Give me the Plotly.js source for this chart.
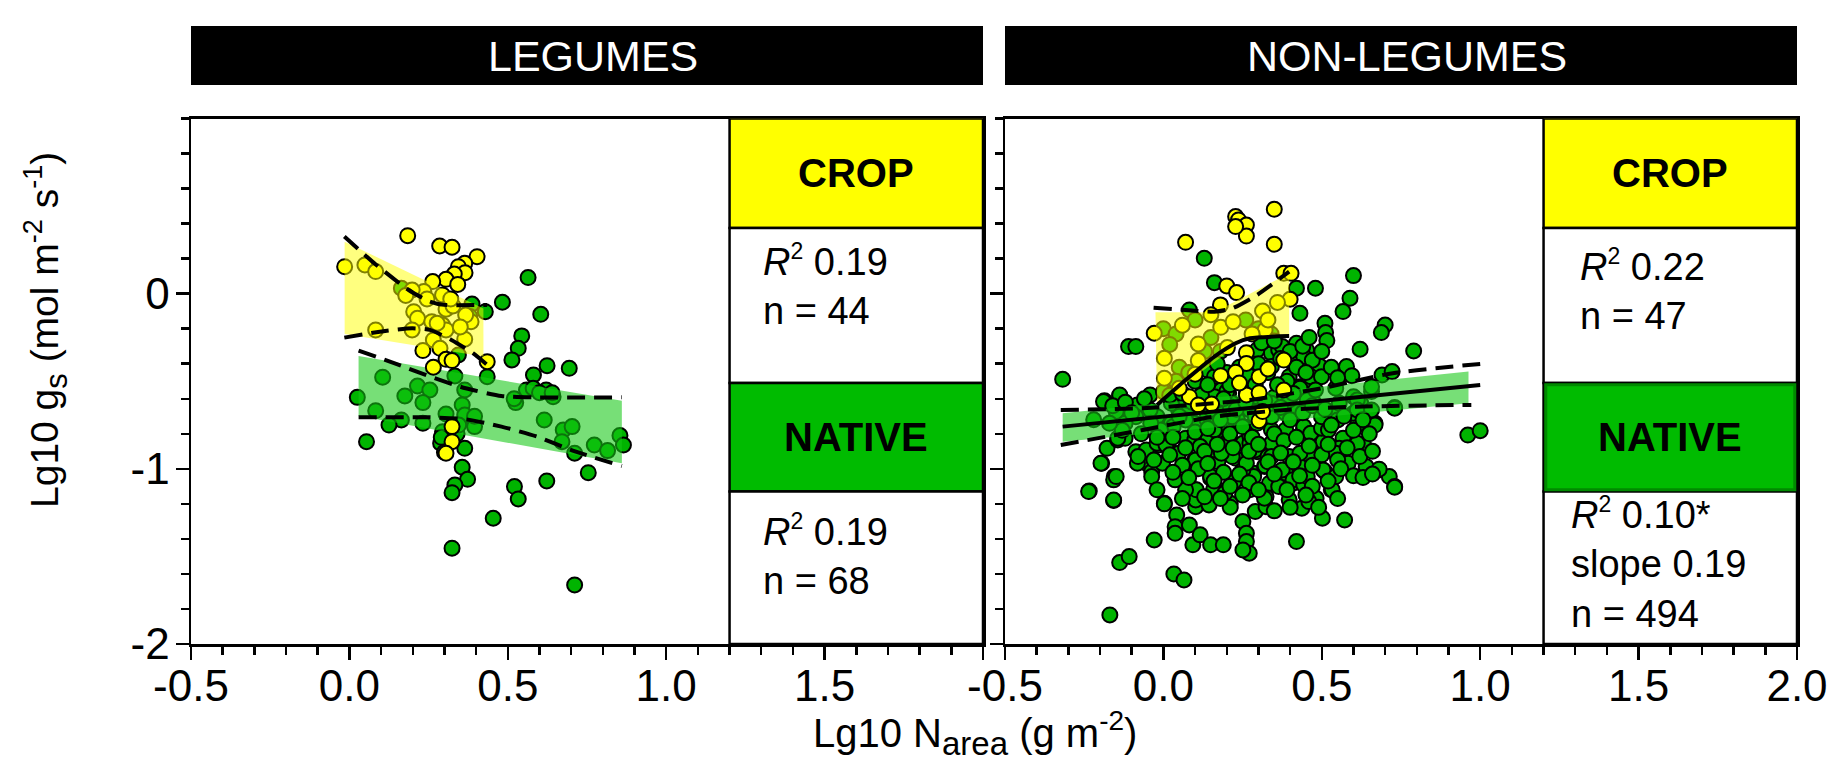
<!DOCTYPE html>
<html>
<head>
<meta charset="utf-8">
<script src="https://cdn.plot.ly/plotly-3.0.1.min.js"></script>
<style>
html,body{margin:0;padding:0;background:#fff;}
#chart{width:1839px;height:765px;}
</style>
</head>
<body>
<div id="chart"></div>
<script>
// ---------------- DATA ----------------
// LEGUMES panel
const legCropPts = [[-0.015,0.154],[0.049,0.164],[0.083,0.126],[0.184,0.331],[0.285,0.272],[0.324,0.265],[0.403,0.211],[0.364,0.173],[0.344,0.154],[0.365,0.120],[0.331,0.112],[0.305,0.082],[0.263,0.069],[0.342,0.053],[0.235,0.012],[0.198,0.021],[0.294,-0.007],[0.305,-0.089],[0.327,-0.070],[0.203,-0.103],[0.215,-0.141],[0.260,-0.160],[0.294,-0.179],[0.305,-0.207],[0.384,-0.160],[0.367,-0.122],[0.277,-0.169],[0.083,-0.207],[0.198,-0.207],[0.265,-0.264],[0.364,-0.260],[0.232,-0.325],[0.286,-0.312],[0.305,-0.375],[0.324,-0.382],[0.265,-0.420],[0.435,-0.388],[0.324,-0.759],[0.324,-0.845],[0.305,-0.911],[0.178,-0.010],[0.320,-0.030],[0.245,-0.030],[0.350,-0.190]];
const legNativePts = [[0.564,0.092],[0.483,-0.049],[0.604,-0.118],[0.429,-0.103],[0.387,-0.059],[0.544,-0.241],[0.533,-0.312],[0.513,-0.378],[0.624,-0.411],[0.694,-0.426],[0.581,-0.464],[0.344,-0.350],[0.333,-0.470],[0.435,-0.474],[0.105,-0.477],[0.215,-0.527],[0.254,-0.550],[0.364,-0.550],[0.025,-0.592],[0.175,-0.584],[0.232,-0.622],[0.356,-0.635],[0.559,-0.550],[0.621,-0.550],[0.643,-0.588],[0.525,-0.622],[0.083,-0.668],[0.164,-0.721],[0.125,-0.750],[0.232,-0.740],[0.305,-0.687],[0.364,-0.693],[0.395,-0.759],[0.294,-0.788],[0.615,-0.721],[0.675,-0.778],[0.703,-0.759],[0.671,-0.845],[0.711,-0.911],[0.773,-0.864],[0.815,-0.896],[0.854,-0.810],[0.865,-0.864],[0.054,-0.845],[0.288,-0.854],[0.364,-0.883],[0.356,-0.991],[0.373,-1.060],[0.333,-1.092],[0.324,-1.136],[0.521,-1.101],[0.533,-1.172],[0.623,-1.069],[0.754,-1.022],[0.454,-1.282],[0.324,-1.453],[0.711,-1.663],[0.164,0.031],[0.290,-0.820],[0.340,-0.800],[0.580,-0.540],[0.600,-0.565],[0.380,-0.130],[0.300,-0.905],[0.640,-0.565],[0.520,-0.600],[0.345,-0.750],[0.395,-0.700]];
// confidence bands (polygons) and interval curves, LEGUMES
const legCropBandX = [-0.015,0.423,0.423,-0.015];
const legCropBandY = [0.297,-0.084,-0.359,-0.230];
const legCropUpX = [-0.016,0.085,0.187,0.254,0.299,0.435];
const legCropUpY = [0.326,0.164,0.021,-0.045,-0.064,-0.064];
const legCropLoX = [-0.016,0.096,0.198,0.254,0.322,0.390,0.435];
const legCropLoY = [-0.251,-0.217,-0.198,-0.207,-0.264,-0.340,-0.407];
const legNatBandX = [0.029,0.860,0.860,0.029];
const legNatBandY = [-0.356,-0.611,-0.968,-0.698];
const legNatUpX = [0.029,0.141,0.254,0.367,0.480,0.592,0.860];
const legNatUpY = [-0.325,-0.397,-0.473,-0.540,-0.584,-0.592,-0.592];
const legNatLoX = [0.029,0.254,0.367,0.480,0.592,0.705,0.860];
const legNatLoY = [-0.706,-0.706,-0.717,-0.759,-0.816,-0.896,-0.984];

// NON-LEGUMES panel
const nonCropPts = [[0.350,0.482],[0.228,0.440],[0.237,0.421],[0.262,0.392],[0.262,0.329],[0.228,0.383],[0.070,0.293],[0.350,0.282],[0.380,0.116],[0.403,0.116],[0.200,0.044],[0.231,0.006],[0.180,-0.064],[0.313,-0.099],[0.400,-0.032],[-0.029,-0.226],[0.181,-0.192],[0.110,-0.287],[0.321,-0.207],[0.003,-0.369],[0.110,-0.382],[0.202,-0.308],[0.262,-0.337],[0.262,-0.398],[0.380,-0.379],[0.228,-0.449],[0.181,-0.468],[0.302,-0.474],[0.380,-0.550],[0.262,-0.578],[0.302,-0.565],[0.082,-0.588],[0.152,-0.630],[0.110,-0.635],[0.302,-0.725],[0.313,-0.673],[0.003,-0.483],[0.360,-0.050],[0.330,-0.150],[0.150,-0.120],[0.060,-0.180],[0.280,-0.230],[0.220,-0.160],[0.100,-0.460],[0.050,-0.540],[0.330,-0.430],[0.240,-0.510]];
const nonNativePts = [[0.129,0.202],[0.161,0.063],[0.420,0.031],[0.480,0.031],[0.600,0.103],[0.589,-0.026],[0.567,-0.102],[0.431,-0.112],[0.510,-0.169],[0.512,-0.222],[0.516,-0.268],[0.700,-0.179],[0.688,-0.222],[0.621,-0.317],[0.790,-0.327],[0.452,-0.321],[0.493,-0.413],[0.578,-0.416],[0.595,-0.468],[0.690,-0.464],[0.722,-0.445],[0.730,-0.650],[0.668,-0.740],[0.961,-0.807],[1.000,-0.782],[-0.110,-0.302],[-0.087,-0.302],[-0.318,-0.489],[-0.186,-0.611],[-0.138,-0.584],[-0.078,-0.639],[-0.042,-0.578],[-0.149,-0.673],[-0.178,-0.883],[-0.195,-0.968],[-0.155,-1.044],[-0.234,-1.126],[-0.157,-1.181],[-0.087,-0.902],[-0.054,-0.968],[-0.037,-1.016],[-0.014,-0.864],[0.014,-0.873],[-0.003,-0.968],[0.003,-1.197],[0.070,-0.825],[0.099,-0.949],[0.149,-1.054],[0.161,-1.111],[0.099,-1.120],[0.110,-1.168],[0.211,-1.197],[0.223,-1.067],[0.228,-0.940],[0.251,-0.854],[0.183,-0.778],[0.228,-0.730],[0.285,-1.025],[0.319,-0.987],[0.296,-0.902],[0.364,-0.854],[0.386,-1.025],[0.409,-1.082],[0.397,-1.177],[0.324,-1.158],[0.442,-0.778],[0.465,-0.930],[0.499,-0.854],[0.510,-1.016],[0.530,-1.120],[0.482,-1.168],[0.550,-0.711],[0.567,-0.825],[0.612,-0.749],[0.628,-0.864],[0.578,-0.968],[0.640,-0.987],[0.681,-1.006],[0.713,-1.044],[0.730,-1.101],[0.296,-0.321],[0.341,-0.340],[0.364,-0.321],[0.420,-0.283],[0.409,-0.397],[0.431,-0.531],[0.459,-0.512],[0.397,-0.474],[0.352,-0.588],[0.183,-0.550],[0.206,-0.569],[0.127,-0.550],[0.138,-0.435],[0.172,-0.664],[0.217,-0.626],[0.476,-0.626],[0.544,-0.540],[0.600,-0.588],[0.623,-0.626],[0.657,-0.559],[0.025,-0.740],[0.048,-0.664],[-0.020,-0.711],[0.273,-0.759],[0.341,-0.778],[0.082,-0.093],
[0.000,-0.200],[0.040,-0.230],[0.100,-0.150],[0.150,-0.250],[0.260,-0.150],[0.300,-0.200],[0.340,-0.230],[0.020,-0.290],[0.050,-0.420],[0.180,-0.330],[0.000,-0.560],[0.130,-0.330],
[-0.236,-1.130],[-0.197,-0.968],[-0.157,-1.063],[-0.149,-1.044],[-0.157,-1.178],[-0.138,-1.535],[-0.108,-1.501],[-0.169,-1.834],[-0.082,-0.968],[-0.037,-1.044],[0.003,-1.200],[-0.029,-1.406],[0.033,-1.600],[0.065,-1.634],[0.042,-1.263],[0.037,-1.330],[0.037,-1.368],[0.082,-1.320],[0.093,-1.434],[0.116,-1.377],[0.149,-1.434],[0.189,-1.434],[0.102,-1.216],[0.102,-1.178],[0.104,-1.120],[0.144,-1.206],[0.158,-1.120],[0.149,-1.044],[0.102,-0.949],[0.099,-0.835],[0.140,-0.835],[0.172,-0.959],[0.217,-0.930],[0.223,-1.073],[0.211,-1.219],[0.251,-1.301],[0.262,-1.368],[0.262,-1.415],[0.271,-1.482],[0.251,-1.463],[0.290,-1.244],[0.324,-1.216],[0.319,-1.168],[0.285,-1.044],[0.251,-1.006],[0.290,-0.892],[0.321,-0.983],[0.335,-1.082],[0.375,-1.006],[0.420,-1.415],[0.437,-1.225],[0.459,-1.187],[0.502,-1.282],[0.572,-1.292],[0.409,-1.063],[0.443,-1.092],[0.431,-0.987],[0.504,-1.006],[0.533,-1.120],[0.544,-1.044],[0.482,-0.845],[0.504,-0.845],[0.555,-0.883],[0.632,-0.864],[0.583,-0.968],[0.681,-1.002],[0.730,-1.105],[0.668,-0.750],[0.730,-0.654],
[-0.189,-0.616],[-0.138,-0.578],[-0.082,-0.635],[-0.020,-0.702],[-0.144,-0.835],[-0.121,-0.826],[-0.054,-0.892],[-0.020,-0.854],[0.008,-0.864],[0.031,-0.759],[0.076,-0.683],[0.099,-0.740],[0.138,-0.721],[0.172,-0.607],[0.200,-0.559],[0.234,-0.721],[0.262,-0.569],[0.296,-0.588],[0.307,-0.664],[0.341,-0.702],[0.386,-0.683],[0.431,-0.540],[0.443,-0.759],[0.465,-0.797],[0.499,-0.768],[0.538,-0.683],[0.550,-0.721],[0.600,-0.683],[0.612,-0.607],[0.657,-0.531],[0.358,-0.854],[0.330,-0.930],[0.397,-0.930],[0.161,-0.892],[0.194,-0.835],[0.273,-0.816],[0.296,-0.740],[0.211,-0.645],[0.116,-0.635],
[0.324,-0.264],[0.375,-0.302],[0.443,-0.359],[0.465,-0.474],[0.499,-0.474],[0.341,-0.416],[0.262,-0.474],[0.161,-0.474],[0.115,-0.626],[0.070,-0.721],[0.161,-0.778],[0.206,-0.835],[0.273,-0.854],[0.341,-0.854],[0.386,-0.778],[0.420,-0.664],[0.454,-0.607],[0.499,-0.702],[0.521,-0.778],[0.555,-0.626],[0.612,-0.664],[0.657,-0.664],[0.397,-0.607],[0.341,-0.626],[0.273,-0.664],[0.217,-0.702],[0.138,-0.683],[0.296,-0.588],[0.161,-0.588],[0.070,-0.607],[0.025,-0.626],[-0.042,-0.664],[-0.087,-0.702],[-0.121,-0.740],[-0.144,-0.825],[-0.009,-0.778],[0.048,-0.911],[0.116,-0.873],[0.183,-0.911],[0.262,-0.968],[0.341,-0.930],[0.431,-0.911],[0.544,-0.911],[0.612,-0.854],[0.454,-1.044],[0.364,-1.101],[0.273,-1.120],[0.194,-1.139],[0.070,-1.120],[0.037,-1.063],
[0.31,-0.28],[0.35,-0.27],[0.40,-0.33],[0.44,-0.30],[0.47,-0.38],[0.42,-0.42],[0.37,-0.37],[0.33,-0.45],[0.39,-0.50],[0.45,-0.45],[0.48,-0.55],[0.36,-0.52],[0.41,-0.57],[0.30,-0.40],[0.50,-0.33],[0.53,-0.42],[0.55,-0.48],[0.46,-0.25],
[0.02,-0.58],[0.06,-0.57],[0.09,-0.62],[0.12,-0.58],[0.15,-0.66],[0.19,-0.60],[0.23,-0.66],[0.26,-0.62],[0.29,-0.70],[0.05,-0.70],[0.10,-0.79],[0.14,-0.77],[0.18,-0.72],[0.21,-0.80],[0.25,-0.76],[0.28,-0.82],[0.03,-0.82],[0.07,-0.88],[0.13,-0.90],[0.17,-0.86],[0.22,-0.88],[0.27,-0.90],[0.30,-0.86],
[0.32,-0.61],[0.37,-0.65],[0.40,-0.72],[0.44,-0.68],[0.47,-0.64],[0.51,-0.66],[0.53,-0.75],[0.57,-0.70],[0.60,-0.78],[0.63,-0.72],[0.35,-0.80],[0.38,-0.84],[0.42,-0.82],[0.46,-0.87],[0.50,-0.92],[0.55,-0.95],[0.58,-0.88],[0.62,-0.93],[0.33,-0.96],[0.37,-0.91],[0.41,-0.96],[0.47,-0.98],[0.52,-0.86],[0.65,-0.80],[0.66,-0.90],
[-0.08,-0.93],[-0.03,-0.95],[0.02,-0.92],[0.06,-0.98],[0.11,-1.00],[0.14,-0.97],[0.19,-1.02],[0.24,-1.03],[0.27,-1.08],[0.21,-1.10],[0.16,-1.07],[0.08,-1.05],[0.03,-1.02],[0.13,-1.16],[0.18,-1.17],[0.25,-1.15],[0.30,-1.12],[0.06,-1.17],[-0.02,-1.12],
[0.35,-1.03],[0.39,-1.12],[0.43,-1.04],[0.47,-1.10],[0.52,-1.07],[0.56,-1.00],[0.60,-1.04],[0.45,-1.15],[0.40,-1.22],[0.35,-1.24],[0.49,-1.22],[0.55,-1.17],[0.63,-1.05],[0.66,-1.03],
[-0.16,-0.64],[-0.12,-0.62],[-0.06,-0.60],[-0.10,-0.68],[-0.04,-0.74],[-0.13,-0.78],[-0.07,-0.80],[-0.02,-0.82],[-0.17,-0.74],[-0.22,-0.72],
[0.10,-0.50],[0.14,-0.52],[0.20,-0.45],[0.24,-0.42],[0.27,-0.47],[0.21,-0.52],[0.17,-0.40],[0.29,-0.52],[0.08,-0.45],[0.04,-0.50]];
const nonCropBandX = [-0.025,0.161,0.397,0.397,0.262,-0.020];
const nonCropBandY = [-0.106,-0.106,0.116,-0.236,-0.255,-0.635];
const nonCropUpX = [-0.031,0.070,0.161,0.217,0.296,0.397];
const nonCropUpY = [-0.080,-0.093,-0.103,-0.084,-0.007,0.126];
const nonCropLoX = [-0.020,0.070,0.161,0.228,0.273,0.397];
const nonCropLoY = [-0.635,-0.493,-0.359,-0.283,-0.255,-0.242];
const nonNatBandX = [-0.318,0.963,0.963,-0.318];
const nonNatBandY = [-0.683,-0.445,-0.626,-0.845];
const nonNatFitX = [-0.318,1.000];
const nonNatFitY = [-0.759,-0.521];
const nonNatUpX = [-0.324,-0.065,0.273,0.499,0.724,1.000];
const nonNatUpY = [-0.664,-0.654,-0.607,-0.540,-0.454,-0.401];
const nonNatLoX = [-0.324,-0.065,0.161,0.386,0.612,0.972];
const nonNatLoY = [-0.864,-0.778,-0.702,-0.664,-0.645,-0.635];

// tick labels and texts
const xTickVals = [-0.5,0,0.5,1,1.5,2];
const xTickTextLeft = ['-0.5','0.0','0.5','1.0','1.5',''];
const xTickTextRight = ['-0.5','0.0','0.5','1.0','1.5','2.0'];
const yTickVals = [-2,-1,0];
const yTickText = ['-2','-1','0'];
const panelTitles = ['LEGUMES','NON-LEGUMES'];
const R2 = '<i>R</i><sup><span style="font-size:23px">2</span></sup>';
const statsLeg = [R2 + ' 0.19<br>n = 44', R2 + ' 0.19<br>n = 68'];
const statsNon = [R2 + ' 0.22<br>n = 47', R2 + ' 0.10*<br>slope 0.19<br>n = 494'];
const xTitle = 'Lg10 N<sub><span style="font-size:33px">area</span></sub> (g m<sup><span style="font-size:28px">-2</span></sup>)';
const yTitle = 'Lg10 g<sub><span style="font-size:31px">s</span></sub> (mol m<sup><span style="font-size:27px">-2</span></sup> s<sup><span style="font-size:27px">-1</span></sup>)';

// ---------------- STYLE ----------------
const FONT = 'Liberation Sans, Arial, sans-serif';
const GREEN = '#00B400', YELLOW = '#FFFF00';
const BAND_Y = 'rgba(255,255,0,0.5)', BAND_G = 'rgba(20,200,20,0.58)';

function pts(arr, color, xa, ya){
  return {type:'scatter', mode:'markers', x:arr.map(p=>p[0]), y:arr.map(p=>p[1]), xaxis:xa, yaxis:ya,
    marker:{size:15, color:color, line:{color:'#000', width:2}}, hoverinfo:'skip', showlegend:false};
}
function band(xs, ys, color, xa, ya){
  return {type:'scatter', mode:'lines', x:xs.concat([xs[0]]), y:ys.concat([ys[0]]), xaxis:xa, yaxis:ya,
    fill:'toself', fillcolor:color, line:{width:0, color:'rgba(0,0,0,0)'}, hoverinfo:'skip', showlegend:false};
}
function curve(xs, ys, dash, xa, ya){
  return {type:'scatter', mode:'lines', x:xs, y:ys, xaxis:xa, yaxis:ya, line:{color:'#000', width:4, dash:dash, shape:'spline', smoothing:0.6},
    hoverinfo:'skip', showlegend:false};
}
const DASH = '18px,9px';
const traces = [
  pts(legNativePts, GREEN, 'x', 'y'),
  band(legNatBandX, legNatBandY, BAND_G, 'x', 'y'),
  pts(legCropPts, YELLOW, 'x', 'y'),
  band(legCropBandX, legCropBandY, BAND_Y, 'x', 'y'),
  curve(legCropUpX, legCropUpY, DASH, 'x', 'y'),
  curve(legCropLoX, legCropLoY, DASH, 'x', 'y'),
  curve(legNatUpX, legNatUpY, DASH, 'x', 'y'),
  curve(legNatLoX, legNatLoY, DASH, 'x', 'y'),
  pts(nonNativePts, GREEN, 'x2', 'y2'),
  band(nonNatBandX, nonNatBandY, BAND_G, 'x2', 'y2'),
  pts(nonCropPts, YELLOW, 'x2', 'y2'),
  band(nonCropBandX, nonCropBandY, BAND_Y, 'x2', 'y2'),
  curve(nonCropUpX, nonCropUpY, DASH, 'x2', 'y2'),
  curve(nonCropLoX, nonCropLoY, 'solid', 'x2', 'y2'),
  curve(nonNatUpX, nonNatUpY, DASH, 'x2', 'y2'),
  curve(nonNatLoX, nonNatLoY, DASH, 'x2', 'y2'),
  curve(nonNatFitX, nonNatFitY, 'solid', 'x2', 'y2')
];

const W = 1839, H = 765;
const px = v => v / W, py = v => 1 - v / H;
const tickFont = {family:FONT, size:44, color:'#000'};
function xAxis(domain, ticktext, anchor){
  return {domain:domain, anchor:anchor, range:[-0.5,2], tickmode:'array', tickvals:xTickVals, ticktext:ticktext,
    ticks:'outside', ticklen:13, tickwidth:2.5, tickcolor:'#000', showline:true, linewidth:2.5, linecolor:'#000', mirror:true,
    showgrid:false, zeroline:false, tickfont:tickFont, ticklabelstandoff:-11,
    minor:{tickmode:'linear', tick0:0, dtick:0.1, ticklen:8, tickwidth:2.5, tickcolor:'#000', ticks:'outside', showgrid:false}};
}
function yAxis(domain, showlabels, anchor){
  return {domain:domain, anchor:anchor, range:[-2,1], tickmode:'array', tickvals:yTickVals, ticktext:yTickText, showticklabels:showlabels,
    ticks:'outside', ticklen:13, tickwidth:2.5, tickcolor:'#000', showline:true, linewidth:2.5, linecolor:'#000', mirror:true,
    showgrid:false, zeroline:false, tickfont:tickFont, ticklabelstandoff:-3,
    minor:{tickmode:'linear', tick0:0, dtick:0.2, ticklen:8, tickwidth:2.5, tickcolor:'#000', ticks:'outside', showgrid:false}};
}
const yDom = [py(644), py(118.5)];
const layout = {
  width:W, height:H, margin:{l:0,r:0,t:0,b:0}, paper_bgcolor:'#fff', plot_bgcolor:'#fff', showlegend:false,
  font:{family:FONT, color:'#000'},
  xaxis: xAxis([px(191), px(983)], xTickTextLeft, 'y'),
  yaxis: yAxis(yDom, true, 'x'),
  xaxis2: xAxis([px(1005), px(1797)], xTickTextRight, 'y2'),
  yaxis2: yAxis(yDom, false, 'x2'),
  shapes: [], annotations: []
};
// header bars
[[191,983],[1005,1797]].forEach((b,i)=>{
  layout.shapes.push({type:'rect', xref:'paper', yref:'paper', x0:px(b[0]), x1:px(b[1]), y0:py(85), y1:py(26), fillcolor:'#000', line:{width:0}, layer:'above'});
  layout.annotations.push({xref:'paper', yref:'paper', x:px((b[0]+b[1])/2 + 6), y:py(56), text:panelTitles[i], showarrow:false,
    font:{family:FONT, size:43, color:'#fff'}, xanchor:'center', yanchor:'middle'});
});
// legend/stat boxes inside each panel
[['x','y',false],['x2','y2',true]].forEach(([xa,ya,darkBorder])=>{
  const boxes = [[0.375,1.0,YELLOW],[-0.51,0.375,'#fff'],[-1.13,-0.51,'#00BB00'],[-2,-1.13,'#fff']];
  boxes.forEach(b=>{
    layout.shapes.push({type:'rect', xref:xa, yref:ya, x0:1.2, x1:2.0, y0:b[0], y1:b[1], fillcolor:b[2], line:{color:'#000', width:2.5}, layer:'above'});
  });
  if(darkBorder){
    layout.shapes.push({type:'rect', xref:xa, yref:ya, x0:1.207, x1:1.993, y0:-1.12, y1:-0.52, fillcolor:'rgba(0,0,0,0)', line:{color:'#008A00', width:3}, layer:'above'});
  }
  layout.annotations.push({xref:xa, yref:ya, x:1.6, y:0.6875, text:'<b>CROP</b>', showarrow:false, font:{family:FONT, size:40, color:'#000'}});
  layout.annotations.push({xref:xa, yref:ya, x:1.6, y:-0.82, text:'<b>NATIVE</b>', showarrow:false, font:{family:FONT, size:40, color:'#000'}});
});
const statFont = {family:FONT, size:38, color:'#000'};
layout.annotations.push({xref:'x', yref:'y', x:1.30, y:0.047, text:statsLeg[0], showarrow:false, align:'left', xanchor:'left', yanchor:'middle', font:statFont});
layout.annotations.push({xref:'x', yref:'y', x:1.30, y:-1.49, text:statsLeg[1], showarrow:false, align:'left', xanchor:'left', yanchor:'middle', font:statFont});
layout.annotations.push({xref:'x2', yref:'y2', x:1.31, y:0.021, text:statsNon[0], showarrow:false, align:'left', xanchor:'left', yanchor:'middle', font:statFont});
layout.annotations.push({xref:'x2', yref:'y2', x:1.28, y:-1.537, text:statsNon[1], showarrow:false, align:'left', xanchor:'left', yanchor:'middle', font:statFont});
// axis titles
layout.annotations.push({xref:'paper', yref:'paper', x:px(975), y:py(733), text:xTitle, showarrow:false,
  xanchor:'center', yanchor:'middle', font:{family:FONT, size:40}});
layout.annotations.push({xref:'paper', yref:'paper', x:px(46), y:py(330), text:yTitle, showarrow:false,
  textangle:-90, xanchor:'center', yanchor:'middle', font:{family:FONT, size:39}});

Plotly.newPlot('chart', traces, layout, {staticPlot:true, displayModeBar:false});
</script>
</body>
</html>
